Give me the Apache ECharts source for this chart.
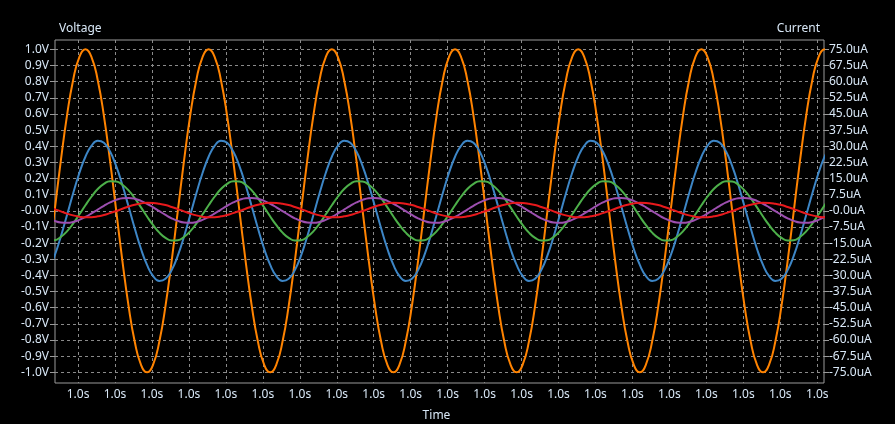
<!DOCTYPE html>
<html>
<head>
<meta charset="utf-8">
<script src="https://cdn.jsdelivr.net/npm/echarts@6/dist/echarts.min.js"></script>
<style>
html,body{margin:0;padding:0;background:#000;}
#chart{width:895px;height:424px;}
</style>
</head>
<body>
<div id="chart"></div>
<script>
// Sample times (ms)
const times = [
  999.78, 999.83, 999.88, 999.93, 999.98, 1000.03, 1000.08, 1000.13, 1000.18, 1000.23, 1000.28, 1000.33, 1000.38, 1000.43, 1000.48, 1000.53, 1000.58, 1000.63, 1000.68, 1000.73,
  1000.78, 1000.83, 1000.88, 1000.93, 1000.98, 1001.03, 1001.08, 1001.13, 1001.18, 1001.23, 1001.28, 1001.33, 1001.38, 1001.43, 1001.48, 1001.53, 1001.58, 1001.63, 1001.68, 1001.73,
  1001.78, 1001.83, 1001.88, 1001.93, 1001.98, 1002.03, 1002.08, 1002.13, 1002.18, 1002.23, 1002.28, 1002.33, 1002.38, 1002.43, 1002.48, 1002.53, 1002.58, 1002.63, 1002.68, 1002.73,
  1002.78, 1002.83, 1002.88, 1002.93, 1002.98, 1003.03, 1003.08, 1003.13, 1003.18, 1003.23, 1003.28, 1003.33, 1003.38, 1003.43, 1003.48, 1003.53, 1003.58, 1003.63, 1003.68, 1003.73,
  1003.78, 1003.83, 1003.88, 1003.93, 1003.98, 1004.03, 1004.08, 1004.13, 1004.18, 1004.23, 1004.28, 1004.33, 1004.38, 1004.43, 1004.48, 1004.53, 1004.58, 1004.63, 1004.68, 1004.73,
  1004.78, 1004.83, 1004.88, 1004.93, 1004.98, 1005.03, 1005.08, 1005.13, 1005.18, 1005.23, 1005.28, 1005.33, 1005.38, 1005.43, 1005.48, 1005.53, 1005.58, 1005.63, 1005.68, 1005.73,
  1005.78, 1005.83, 1005.88, 1005.93, 1005.98, 1006.03, 1006.08, 1006.13
];

const orangeV = [
  -0.309, 0, 0.309, 0.588, 0.809, 0.951, 1, 0.951, 0.809, 0.588, 0.309, 0, -0.309, -0.588, -0.809, -0.951, -1, -0.951, -0.809, -0.588,
  -0.309, 0, 0.309, 0.588, 0.809, 0.951, 1, 0.951, 0.809, 0.588, 0.309, 0, -0.309, -0.588, -0.809, -0.951, -1, -0.951, -0.809, -0.588,
  -0.309, 0, 0.309, 0.588, 0.809, 0.951, 1, 0.951, 0.809, 0.588, 0.309, 0, -0.309, -0.588, -0.809, -0.951, -1, -0.951, -0.809, -0.588,
  -0.309, 0, 0.309, 0.588, 0.809, 0.951, 1, 0.951, 0.809, 0.588, 0.309, 0, -0.309, -0.588, -0.809, -0.951, -1, -0.951, -0.809, -0.588,
  -0.309, 0, 0.309, 0.588, 0.809, 0.951, 1, 0.951, 0.809, 0.588, 0.309, 0, -0.309, -0.588, -0.809, -0.951, -1, -0.951, -0.809, -0.588,
  -0.309, 0, 0.309, 0.588, 0.809, 0.951, 1, 0.951, 0.809, 0.588, 0.309, 0, -0.309, -0.588, -0.809, -0.951, -1, -0.951, -0.809, -0.588,
  -0.309, 0, 0.309, 0.588, 0.809, 0.951, 1, 0.951
];

const blueV = [
  -0.367, -0.277, -0.160, -0.027, 0.108, 0.233, 0.335, 0.404, 0.434, 0.421, 0.367, 0.277, 0.160, 0.027, -0.108, -0.233, -0.335, -0.404, -0.434, -0.421,
  -0.367, -0.277, -0.160, -0.027, 0.108, 0.233, 0.335, 0.404, 0.434, 0.421, 0.367, 0.277, 0.160, 0.027, -0.108, -0.233, -0.335, -0.404, -0.434, -0.421,
  -0.367, -0.277, -0.160, -0.027, 0.108, 0.233, 0.335, 0.404, 0.434, 0.421, 0.367, 0.277, 0.160, 0.027, -0.108, -0.233, -0.335, -0.404, -0.434, -0.421,
  -0.367, -0.277, -0.160, -0.027, 0.108, 0.233, 0.335, 0.404, 0.434, 0.421, 0.367, 0.277, 0.160, 0.027, -0.108, -0.233, -0.335, -0.404, -0.434, -0.421,
  -0.367, -0.277, -0.160, -0.027, 0.108, 0.233, 0.335, 0.404, 0.434, 0.421, 0.367, 0.277, 0.160, 0.027, -0.108, -0.233, -0.335, -0.404, -0.434, -0.421,
  -0.367, -0.277, -0.160, -0.027, 0.108, 0.233, 0.335, 0.404, 0.434, 0.421, 0.367, 0.277, 0.160, 0.027, -0.108, -0.233, -0.335, -0.404, -0.434, -0.421,
  -0.367, -0.277, -0.160, -0.027, 0.108, 0.233, 0.335, 0.404
];

const greenV = [
  -0.184, -0.182, -0.162, -0.127, -0.079, -0.023, 0.035, 0.089, 0.135, 0.167, 0.184, 0.182, 0.162, 0.127, 0.079, 0.023, -0.035, -0.089, -0.135, -0.167,
  -0.184, -0.182, -0.162, -0.127, -0.079, -0.023, 0.035, 0.089, 0.135, 0.167, 0.184, 0.182, 0.162, 0.127, 0.079, 0.023, -0.035, -0.089, -0.135, -0.167,
  -0.184, -0.182, -0.162, -0.127, -0.079, -0.023, 0.035, 0.089, 0.135, 0.167, 0.184, 0.182, 0.162, 0.127, 0.079, 0.023, -0.035, -0.089, -0.135, -0.167,
  -0.184, -0.182, -0.162, -0.127, -0.079, -0.023, 0.035, 0.089, 0.135, 0.167, 0.184, 0.182, 0.162, 0.127, 0.079, 0.023, -0.035, -0.089, -0.135, -0.167,
  -0.184, -0.182, -0.162, -0.127, -0.079, -0.023, 0.035, 0.089, 0.135, 0.167, 0.184, 0.182, 0.162, 0.127, 0.079, 0.023, -0.035, -0.089, -0.135, -0.167,
  -0.184, -0.182, -0.162, -0.127, -0.079, -0.023, 0.035, 0.089, 0.135, 0.167, 0.184, 0.182, 0.162, 0.127, 0.079, 0.023, -0.035, -0.089, -0.135, -0.167,
  -0.184, -0.182, -0.162, -0.127, -0.079, -0.023, 0.035, 0.089
];

const purpleV = [
  -0.046, -0.062, -0.072, -0.074, -0.069, -0.056, -0.038, -0.016, 0.008, 0.031, 0.052, 0.068, 0.078, 0.080, 0.075, 0.062, 0.044, 0.022, -0.002, -0.025,
  -0.046, -0.062, -0.072, -0.074, -0.069, -0.056, -0.038, -0.016, 0.008, 0.031, 0.052, 0.068, 0.078, 0.080, 0.075, 0.062, 0.044, 0.022, -0.002, -0.025,
  -0.046, -0.062, -0.072, -0.074, -0.069, -0.056, -0.038, -0.016, 0.008, 0.031, 0.052, 0.068, 0.078, 0.080, 0.075, 0.062, 0.044, 0.022, -0.002, -0.025,
  -0.046, -0.062, -0.072, -0.074, -0.069, -0.056, -0.038, -0.016, 0.008, 0.031, 0.052, 0.068, 0.078, 0.080, 0.075, 0.062, 0.044, 0.022, -0.002, -0.025,
  -0.046, -0.062, -0.072, -0.074, -0.069, -0.056, -0.038, -0.016, 0.008, 0.031, 0.052, 0.068, 0.078, 0.080, 0.075, 0.062, 0.044, 0.022, -0.002, -0.025,
  -0.046, -0.062, -0.072, -0.074, -0.069, -0.056, -0.038, -0.016, 0.008, 0.031, 0.052, 0.068, 0.078, 0.080, 0.075, 0.062, 0.044, 0.022, -0.002, -0.025,
  -0.046, -0.062, -0.072, -0.074, -0.069, -0.056, -0.038, -0.016
];

const redV = [
  0.024, 0.011, -0.003, -0.017, -0.028, -0.036, -0.040, -0.039, -0.034, -0.026, -0.014, -0.001, 0.013, 0.027, 0.038, 0.046, 0.050, 0.049, 0.044, 0.036,
  0.024, 0.011, -0.003, -0.017, -0.028, -0.036, -0.040, -0.039, -0.034, -0.026, -0.014, -0.001, 0.013, 0.027, 0.038, 0.046, 0.050, 0.049, 0.044, 0.036,
  0.024, 0.011, -0.003, -0.017, -0.028, -0.036, -0.040, -0.039, -0.034, -0.026, -0.014, -0.001, 0.013, 0.027, 0.038, 0.046, 0.050, 0.049, 0.044, 0.036,
  0.024, 0.011, -0.003, -0.017, -0.028, -0.036, -0.040, -0.039, -0.034, -0.026, -0.014, -0.001, 0.013, 0.027, 0.038, 0.046, 0.050, 0.049, 0.044, 0.036,
  0.024, 0.011, -0.003, -0.017, -0.028, -0.036, -0.040, -0.039, -0.034, -0.026, -0.014, -0.001, 0.013, 0.027, 0.038, 0.046, 0.050, 0.049, 0.044, 0.036,
  0.024, 0.011, -0.003, -0.017, -0.028, -0.036, -0.040, -0.039, -0.034, -0.026, -0.014, -0.001, 0.013, 0.027, 0.038, 0.046, 0.050, 0.049, 0.044, 0.036,
  0.024, 0.011, -0.003, -0.017, -0.028, -0.036, -0.040, -0.039
];

// Axis ticks and labels
const timeTicks = [1000.02, 1000.32, 1000.62, 1000.92, 1001.22, 1001.52, 1001.82, 1002.12, 1002.42, 1002.72,
  1003.02, 1003.32, 1003.62, 1003.92, 1004.22, 1004.52, 1004.82, 1005.12, 1005.42, 1005.72, 1006.02];
const timeMin = 999.833, timeMax = 1006.075;

const voltTicks = [-1.0, -0.9, -0.8, -0.7, -0.6, -0.5, -0.4, -0.3, -0.2, -0.1, 0, 0.1, 0.2, 0.3, 0.4, 0.5, 0.6, 0.7, 0.8, 0.9, 1.0];
const voltLabels = ['-1.0V','-0.9V','-0.8V','-0.7V','-0.6V','-0.5V','-0.4V','-0.3V','-0.2V','-0.1V','-0.0V',
  '0.1V','0.2V','0.3V','0.4V','0.5V','0.6V','0.7V','0.8V','0.9V','1.0V'];
const voltMin = -1.066, voltMax = 1.058;

const currTicks = [-75, -67.5, -60, -52.5, -45, -37.5, -30, -22.5, -15, -7.5, 0, 7.5, 15, 22.5, 30, 37.5, 45, 52.5, 60, 67.5, 75];
const currLabels = ['-75.0uA','-67.5uA','-60.0uA','-52.5uA','-45.0uA','-37.5uA','-30.0uA','-22.5uA','-15.0uA','-7.5uA','-0.0uA',
  '7.5uA','15.0uA','22.5uA','30.0uA','37.5uA','45.0uA','52.5uA','60.0uA','67.5uA','75.0uA'];
const currScale = 75;

const seriesNames = ['V1', 'V2', 'V3', 'V4', 'V5'];
const seriesColors = ['#ff8300', '#3d86c6', '#4db04a', '#9d4fb0', '#e8191c'];
const seriesValues = [orangeV, blueV, greenV, purpleV, redV];

function lookup(ticks, labels, v) {
  for (let i = 0; i < ticks.length; i++) {
    if (Math.abs(ticks[i] - v) < 1e-6) return labels[i];
  }
  return '';
}

const textColor = '#d9e8f7';
const font = 'Noto Sans';
const axisGray = '#9a9a9a';
const gridGray = '#8a8a8a';

const chart = echarts.init(document.getElementById('chart'), null, {renderer: 'canvas'});
chart.setOption({
  backgroundColor: '#000000',
  animation: false,
  grid: {
    left: 55, right: 71, top: 40, bottom: 41,
    outerBoundsMode: 'none',
    containLabel: false,
    show: true, borderColor: axisGray, borderWidth: 1, backgroundColor: 'transparent'
  },
  xAxis: {
    type: 'value',
    min: timeMin, max: timeMax,
    name: 'Time', nameLocation: 'middle', nameGap: 27,
    nameTextStyle: {color: textColor, fontSize: 12, fontFamily: font, padding: [0, 6, 0, 0]},
    axisLine: {show: false},
    axisTick: {show: true, inside: false, length: 5, customValues: timeTicks, lineStyle: {color: axisGray}},
    axisLabel: {
      customValues: timeTicks, color: textColor, fontSize: 12, fontFamily: font, margin: 6,
      formatter: v => (v / 1000).toFixed(1) + 's'
    },
    splitLine: {show: true, lineStyle: {color: gridGray, type: [3, 3], width: 1}}
  },
  yAxis: [
    {
      type: 'value', position: 'left',
      min: voltMin, max: voltMax,
      name: 'Voltage', nameLocation: 'end', nameGap: 5,
      nameTextStyle: {color: textColor, fontSize: 12, fontFamily: font, align: 'left', padding: [0, 0, 0, 4]},
      axisLine: {show: false},
      axisTick: {show: true, inside: false, length: 5, customValues: voltTicks, lineStyle: {color: axisGray}},
      axisLabel: {
        customValues: voltTicks, color: textColor, fontSize: 12, fontFamily: font, margin: 6,
        formatter: v => lookup(voltTicks, voltLabels, v)
      },
      splitLine: {show: true, lineStyle: {color: gridGray, type: [3, 3], width: 1}}
    },
    {
      type: 'value', position: 'right',
      min: voltMin * currScale, max: voltMax * currScale,
      name: 'Current', nameLocation: 'end', nameGap: 5,
      nameTextStyle: {color: textColor, fontSize: 12, fontFamily: font, align: 'right', padding: [0, 4, 0, 0]},
      axisLine: {show: false},
      axisTick: {show: true, inside: false, length: 5, customValues: currTicks, lineStyle: {color: axisGray}},
      axisLabel: {
        customValues: currTicks, color: textColor, fontSize: 12, fontFamily: font, margin: 5,
        formatter: v => lookup(currTicks, currLabels, v)
      },
      splitLine: {show: false}
    }
  ],
  series: seriesValues.map((vals, si) => ({
    name: seriesNames[si],
    type: 'line',
    yAxisIndex: 0,
    showSymbol: false,
    smooth: true,
    clip: true,
    lineStyle: {color: seriesColors[si], width: 2},
    itemStyle: {color: seriesColors[si]},
    data: times.map((t, i) => [t, vals[i]])
  }))
});
</script>
</body>
</html>
